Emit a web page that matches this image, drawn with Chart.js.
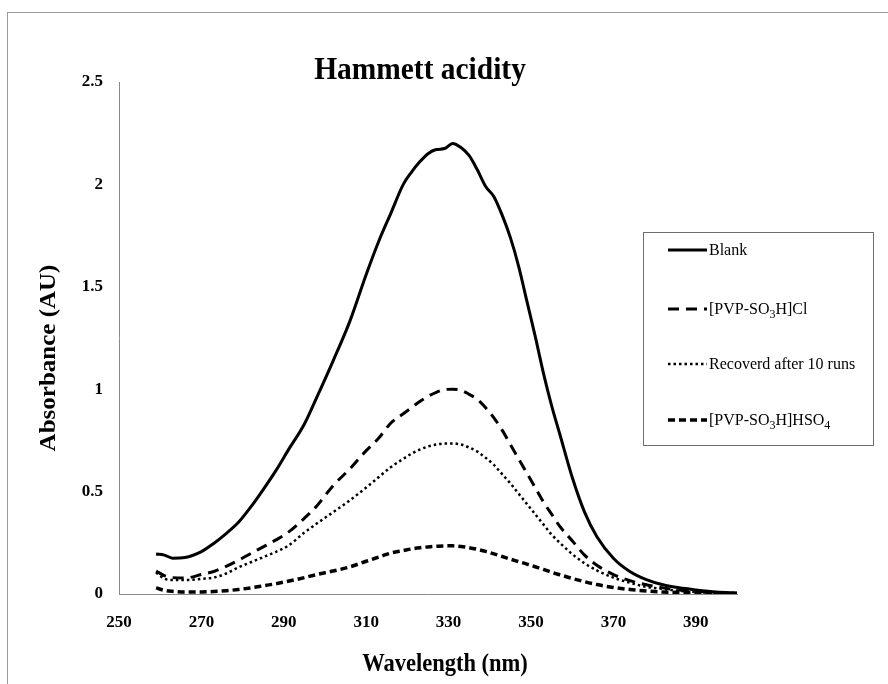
<!DOCTYPE html>
<html>
<head>
<meta charset="utf-8">
<script src="https://cdn.jsdelivr.net/npm/chart.js@4.4.1/dist/chart.umd.min.js"></script>
<style>
  body { margin: 0; background: #fff; }
  #wrap { width: 888px; height: 684px; }
</style>
</head>
<body>
<div id="wrap"><canvas id="uvChart" width="888" height="684"></canvas></div>
<script>
// wavelength grid (nm), shared by all series
const wavelength = [259, 261, 263, 266, 270, 273, 276, 279, 282, 285, 288, 291, 295, 298, 302, 306, 310, 313, 316, 319,
  321, 323, 325, 327, 329, 331, 333, 335, 337, 339, 341, 343, 345, 347, 349, 351, 353, 355, 357, 360,
  363, 366, 370, 374, 378, 382, 386, 390, 395, 400];

const blank = [0.195, 0.19, 0.175, 0.178, 0.207, 0.247, 0.295, 0.35, 0.425, 0.51, 0.60, 0.70, 0.83, 0.96, 1.14, 1.33, 1.56, 1.72, 1.86, 2.00,
  2.06, 2.11, 2.15, 2.17, 2.175, 2.20, 2.18, 2.14, 2.07, 1.99, 1.94, 1.85, 1.74, 1.60, 1.43, 1.26, 1.08, 0.92, 0.78, 0.57,
  0.40, 0.28, 0.175, 0.11, 0.07, 0.045, 0.03, 0.02, 0.01, 0.005];

const pvpCl = [0.112, 0.09, 0.08, 0.078, 0.095, 0.11, 0.135, 0.165, 0.198, 0.23, 0.263, 0.30, 0.37, 0.43, 0.53, 0.61, 0.70, 0.76, 0.835, 0.88,
  0.91, 0.94, 0.965, 0.985, 0.998, 1.0, 0.995, 0.975, 0.95, 0.91, 0.86, 0.80, 0.73, 0.66, 0.59, 0.52, 0.45, 0.39, 0.33, 0.26,
  0.19, 0.14, 0.095, 0.065, 0.045, 0.03, 0.02, 0.013, 0.007, 0.004];

const recovered = [0.105, 0.075, 0.068, 0.068, 0.074, 0.08, 0.10, 0.13, 0.155, 0.18, 0.205, 0.235, 0.30, 0.344, 0.40, 0.457, 0.52, 0.57, 0.62, 0.66,
  0.685, 0.705, 0.72, 0.73, 0.735, 0.735, 0.73, 0.715, 0.695, 0.665, 0.63, 0.585, 0.54, 0.49, 0.44, 0.39, 0.34, 0.29, 0.25, 0.195,
  0.15, 0.115, 0.08, 0.055, 0.035, 0.025, 0.015, 0.01, 0.005, 0.003];

const pvpHSO4 = [0.03, 0.018, 0.013, 0.01, 0.01, 0.012, 0.016, 0.022, 0.03, 0.04, 0.05, 0.062, 0.08, 0.095, 0.112, 0.132, 0.16, 0.18, 0.2, 0.212,
  0.22, 0.226, 0.23, 0.233, 0.235, 0.235, 0.232, 0.226, 0.218, 0.208, 0.196, 0.183, 0.17, 0.158, 0.146, 0.133, 0.12, 0.106, 0.094, 0.076,
  0.06, 0.046, 0.032, 0.022, 0.015, 0.01, 0.007, 0.005, 0.003, 0.002];

const seriesLabels = ['Blank', '[PVP-SO₃H]Cl', 'Recoverd after 10 runs', '[PVP-SO₃H]HSO₄'];
const xTicks = [250, 270, 290, 310, 330, 350, 370, 390];

const SERIF = '"Liberation Serif", "Times New Roman", serif';

function toPoints(ys) {
  return wavelength.map((x, i) => ({ x: x, y: ys[i] }));
}

// draw a string where unicode subscript digits are drawn small and lowered
function drawSubText(ctx, str, x, y, size, bold) {
  const w = bold ? 'bold ' : '';
  let cx = x;
  for (const ch of str) {
    const code = ch.charCodeAt(0);
    if (code >= 0x2080 && code <= 0x2089) {
      ctx.font = w + Math.round(size * 0.72) + 'px ' + SERIF;
      const d = String.fromCharCode(code - 0x2080 + 48);
      ctx.fillText(d, cx, y + size * 0.22);
      cx += ctx.measureText(d).width;
    } else {
      ctx.font = w + size + 'px ' + SERIF;
      ctx.fillText(ch, cx, y);
      cx += ctx.measureText(ch).width;
    }
  }
}

// text squeezed a little horizontally, like the source picture
function squeezedText(ctx, str, x, y, sx, angle) {
  ctx.save();
  ctx.translate(x, y);
  ctx.scale(sx, 1);
  if (angle) ctx.rotate(angle);
  ctx.fillText(str, 0, 0);
  ctx.restore();
}

const decorations = {
  id: 'decorations',
  afterDraw(chart) {
    const ctx = chart.ctx;
    ctx.save();

    // outer frame
    ctx.strokeStyle = '#9a9a9a';
    ctx.lineWidth = 1;
    ctx.strokeRect(7.5, 12.5, 900, 700);

    ctx.fillStyle = '#000';
    ctx.textBaseline = 'alphabetic';
    ctx.textAlign = 'center';

    // title
    ctx.font = 'bold 32px ' + SERIF;
    squeezedText(ctx, 'Hammett acidity', 420, 79, 0.92);

    // axis titles
    ctx.font = 'bold 25px ' + SERIF;
    squeezedText(ctx, 'Wavelength (nm)', 445, 671, 0.9);
    squeezedText(ctx, 'Absorbance (AU)', 55, 358, 0.9, -Math.PI / 2);

    // legend box
    const lx = 643, ly = 232, lw = 230, lh = 213;
    ctx.fillStyle = '#fff';
    ctx.fillRect(lx, ly, lw, lh);
    ctx.strokeStyle = '#6e6e6e';
    ctx.strokeRect(lx + 0.5, ly + 0.5, lw, lh);
    const rows = [250, 309, 364, 420];
    chart.data.datasets.forEach((ds, i) => {
      const yy = rows[i];
      ctx.strokeStyle = ds.borderColor;
      ctx.lineWidth = ds.borderWidth;
      ctx.setLineDash(ds.borderDash || []);
      ctx.beginPath();
      ctx.moveTo(668, yy);
      ctx.lineTo(707, yy);
      ctx.stroke();
      ctx.setLineDash([]);
      ctx.fillStyle = '#000';
      ctx.textAlign = 'left';
      drawSubText(ctx, ds.label, 709, yy + 5, 16, false);
    });
    ctx.restore();
  }
};

const ctx = document.getElementById('uvChart').getContext('2d');
const uvChart = new Chart(ctx, {
  type: 'scatter',
  data: {
    datasets: [
      { label: seriesLabels[0], data: toPoints(blank), borderColor: '#000', borderWidth: 3, borderDash: [] },
      { label: seriesLabels[1], data: toPoints(pvpCl), borderColor: '#000', borderWidth: 3, borderDash: [11, 7] },
      { label: seriesLabels[2], data: toPoints(recovered), borderColor: '#000', borderWidth: 2.5, borderDash: [2.5, 3] },
      { label: seriesLabels[3], data: toPoints(pvpHSO4), borderColor: '#000', borderWidth: 3.5, borderDash: [7, 4] }
    ]
  },
  options: {
    responsive: false,
    animation: false,
    showLine: true,
    elements: {
      point: { radius: 0, hoverRadius: 0 },
      line: { tension: 0.3, cubicInterpolationMode: 'monotone', fill: false }
    },
    layout: { padding: { left: 0, right: 151, top: 82, bottom: 0 } },
    plugins: {
      legend: { display: false },
      title: { display: false },
      tooltip: { enabled: false }
    },
    scales: {
      x: {
        type: 'linear',
        min: 250,
        max: 400,
        afterFit: s => { s.height = 90; },
        afterBuildTicks: s => { s.ticks = xTicks.map(v => ({ value: v })); },
        grid: { display: false, drawTicks: false },
        border: { display: true, color: '#8a8a8a', width: 1 },
        ticks: {
          padding: 18,
          color: '#000',
          font: { family: SERIF, size: 17, weight: 'bold' }
        }
      },
      y: {
        min: 0,
        max: 2.5,
        afterFit: s => { s.width = 119; },
        grid: { display: false, drawTicks: false },
        border: { display: true, color: '#8a8a8a', width: 1 },
        ticks: {
          stepSize: 0.5,
          padding: 16,
          color: '#000',
          font: { family: SERIF, size: 17, weight: 'bold' },
          callback: v => String(+v.toFixed(1))
        }
      }
    }
  },
  plugins: [decorations]
});
</script>
</body>
</html>
